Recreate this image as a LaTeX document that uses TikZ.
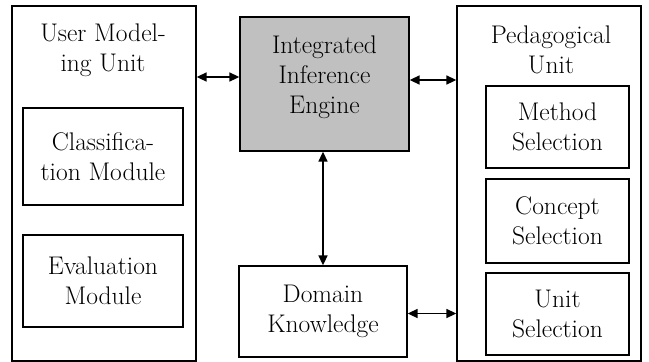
\documentclass[tikz,border=0pt]{standalone}
\usepackage{tikz}
\usetikzlibrary{arrows.meta, positioning}
\definecolor{enginegray}{RGB}{192,192,192}

\begin{document}
\begin{tikzpicture}[x=1pt, y=-1pt,
        box/.style={draw, line width=1.3pt, align=center, inner sep=0pt, font=\fontsize{25.5}{30}\selectfont},
        title/.style={align=center, inner sep=0pt, font=\fontsize{25.5}{30}\selectfont},
        conn/.style={line width=1.6pt, {Triangle[length=10pt, width=9pt]}-{Triangle[length=10pt, width=9pt]}}]
        \useasboundingbox (0,0) rectangle (649,362);

        % User modeling unit
        \node[box, minimum width=184pt, minimum height=355pt] (umu) at (104, 183.5) {};
        \node[title] (umutitle) at (103, 50) {User Model-\\ing Unit};
        \node[box, minimum width=160pt, minimum height=97pt] (classif) at (103, 156.5) {Classifica-\\tion Module};
        \node[box, minimum width=160pt, minimum height=92pt] (evalmod) at (103, 281) {Evaluation\\Module};

        % Inference engine and domain
        \node[box, fill=enginegray, minimum width=169pt, minimum height=134pt] (engine) at (324.5, 84) {Integrated\\Inference\\Engine\\[-12pt]};
        \node[box, minimum width=168pt, minimum height=91pt] (domain) at (323, 311.5) {Domain\\Knowledge};

        % Pedagogical unit
        \node[box, minimum width=184pt, minimum height=355pt] (peda) at (549, 183.5) {};
        \node[title] (pedatitle) at (551, 50) {Pedagogical\\Unit};
        \node[box, minimum width=143pt, minimum height=82pt] (method) at (557.5, 127) {Method\\Selection};
        \node[box, minimum width=143pt, minimum height=84pt] (concept) at (557.5, 221) {Concept\\Selection};
        \node[box, minimum width=143pt, minimum height=82pt] (unitsel) at (557.5, 314) {Unit\\Selection};

        % Connectors
        \draw[conn] ([yshift=7pt]engine.west -| umu.east) -- ([yshift=7pt]engine.west);
        \draw[conn] ([yshift=4pt]engine.east) -- ([yshift=4pt]engine.east -| peda.west);
        \draw[conn] (engine.south -| domain.north) -- (domain.north);
        \draw[conn] ([yshift=-2pt]domain.east) -- ([yshift=-2pt]domain.east -| peda.west);
    \end{tikzpicture}
\end{document}
